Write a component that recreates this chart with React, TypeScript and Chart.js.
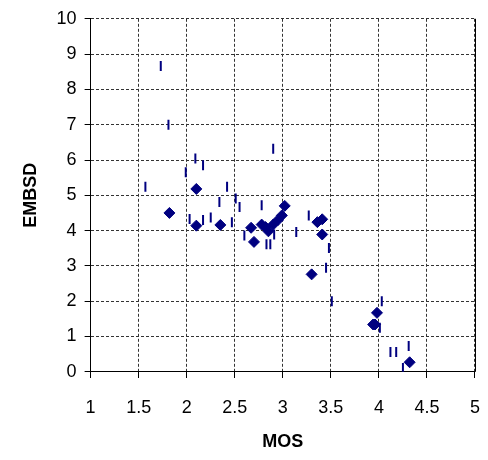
import React, { useEffect, useRef } from "react";
import { Chart, registerables } from "chart.js";

Chart.register(...registerables);

// Series 1: diamonds (MOS, EMBSD)
const diamondMOS = [1.82, 2.1, 2.1, 2.35, 2.67, 2.7, 2.78, 2.82, 2.85, 2.9, 2.95, 2.99, 3.02, 3.36, 3.41, 3.41, 3.3, 3.98, 3.94, 3.96, 4.32];
const diamondEMBSD = [4.5, 5.18, 4.14, 4.16, 4.08, 3.68, 4.17, 4.1, 3.98, 4.17, 4.3, 4.43, 4.7, 4.24, 4.32, 3.89, 2.76, 1.67, 1.34, 1.34, 0.27];

// Series 2: vertical dashes (MOS, EMBSD)
const dashMOS = [1.73, 1.81, 1.99, 2.09, 2.17, 1.57, 2.42, 2.9, 2.34, 2.51, 2.55, 2.78, 2.03, 2.17, 2.25, 2.47, 2.6, 2.83, 2.87, 2.91, 3.14, 3.27, 3.48, 3.45, 3.51, 4.03, 4.01, 4.12, 4.18, 4.31, 4.25];
const dashEMBSD = [8.66, 7.0, 5.65, 6.04, 5.85, 5.24, 5.24, 6.32, 4.81, 4.91, 4.67, 4.72, 4.33, 4.3, 4.37, 4.24, 3.86, 3.61, 3.61, 3.89, 3.96, 4.43, 3.51, 2.95, 2.0, 2.0, 1.25, 0.56, 0.56, 0.73, 0.11];

const xTitle = "MOS";
const yTitle = "EMBSD";

const NAVY = "#000080";
const FAMILY = "'Liberation Sans', Arial, sans-serif";

const rightBorder = {
  id: "rightBorder",
  afterDraw(chart: any) {
    const { ctx, chartArea } = chart;
    ctx.save();
    ctx.strokeStyle = "#000";
    ctx.lineWidth = 1;
    ctx.beginPath();
    ctx.moveTo(Math.round(chartArea.right) + 0.5, chartArea.top);
    ctx.lineTo(Math.round(chartArea.right) + 0.5, chartArea.bottom);
    ctx.stroke();
    ctx.restore();
  },
};

const fmt = (v: any) => String(Number(v));

export default function App() {
  const ref = useRef<HTMLCanvasElement>(null);
  useEffect(() => {
    if (!ref.current) return;
    const font = { family: FAMILY, size: 18 };
    const chart = new Chart(ref.current, {
      type: "scatter",
      data: {
        datasets: [
          {
            label: "dash",
            data: dashMOS.map((x, i) => ({ x, y: dashEMBSD[i] })),
            pointStyle: "line",
            rotation: 90,
            radius: 5,
            borderWidth: 2,
            borderColor: NAVY,
            backgroundColor: NAVY,
          } as any,
          {
            label: "diamond",
            data: diamondMOS.map((x, i) => ({ x, y: diamondEMBSD[i] })),
            pointStyle: "rectRot",
            radius: 5.5,
            borderWidth: 1,
            borderColor: NAVY,
            backgroundColor: NAVY,
          } as any,
        ],
      },
      options: {
        animation: false,
        responsive: false,
        maintainAspectRatio: false,
        layout: { padding: { left: 20, right: 0, top: 3, bottom: 7 } },
        plugins: { legend: { display: false }, tooltip: { enabled: false } },
        scales: {
          x: {
            type: "linear",
            min: 1,
            max: 5,
            ticks: { stepSize: 0.5, color: "#000", font, padding: 8, callback: fmt },
            grid: {
              color: "#333",
              lineWidth: 1,
              tickLength: 17,
              tickColor: "#000",
              tickBorderDash: [6, 60],
            },
            border: { display: true, color: "#000", width: 1, dash: [3, 2] },
            title: {
              display: true,
              text: xTitle,
              color: "#000",
              font: { family: FAMILY, size: 18, weight: "bold" },
              padding: { top: 5, bottom: 0 },
            },
          },
          y: {
            type: "linear",
            min: 0,
            max: 10,
            ticks: { stepSize: 1, color: "#000", font, padding: 8, callback: fmt },
            grid: { color: "#333", lineWidth: 1, tickLength: 6, tickColor: "#000" },
            border: { display: true, color: "#000", width: 1, dash: [3, 2] },
            title: {
              display: true,
              text: yTitle,
              color: "#000",
              font: { family: FAMILY, size: 18, weight: "bold" },
              padding: { top: 0, bottom: 7 },
            },
          },
        },
      },
      plugins: [rightBorder],
    });
    return () => chart.destroy();
  }, []);
  return (
    <div style={{ position: "fixed", left: 0, top: 0, width: 488, height: 460, background: "#fff" }}>
      <canvas ref={ref} width={488} height={460} style={{ width: 488, height: 460 }} />
    </div>
  );
}
